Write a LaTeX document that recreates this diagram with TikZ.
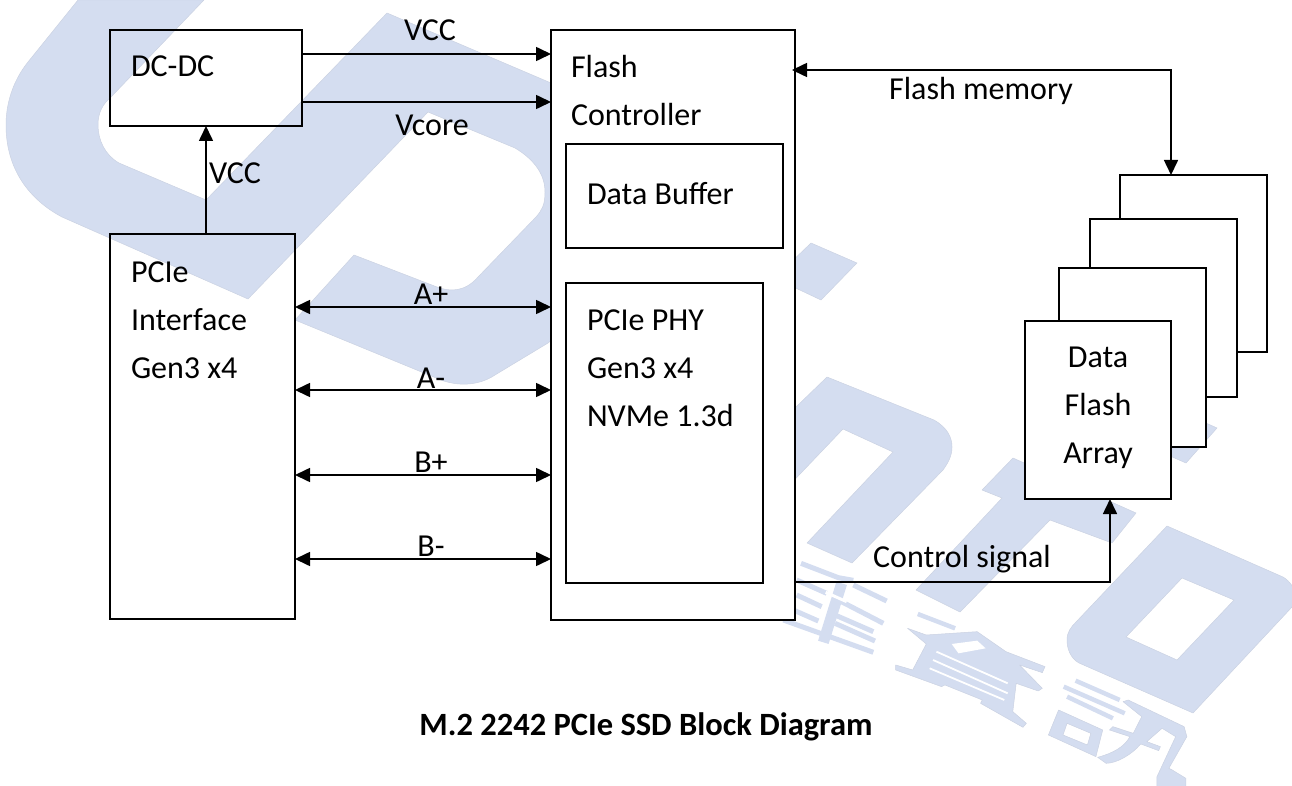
\documentclass[tikz,border=0pt]{standalone}
\usepackage{fontspec}
\setmainfont{Carlito}
\usetikzlibrary{arrows.meta}
\definecolor{wm}{RGB}{212,221,240}
\definecolor{wmedge}{RGB}{203,210,226}
\tikzset{
  wmfill/.style={fill=wm,draw=wmedge,line width=.5pt,line join=round},
  wmline/.style={draw=wm,line width=#1,line cap=butt},
  wmline/.default=5pt,
  wmslit/.style={draw=white,line width=#1},
  wmslit/.default=1.8pt,
  box/.style={draw=black,line width=1.6pt,inner sep=0pt,outer sep=0pt},
  solidbox/.style={box,fill=white},
  lab/.style={inner sep=0pt,outer sep=0pt,anchor=base west,align=left,font=\fontsize{32}{48}\selectfont},
  clab/.style={inner sep=0pt,outer sep=0pt,anchor=base,font=\fontsize{32}{38}\selectfont},
  conn/.style={draw=black,line width=1.6pt,-{Triangle[length=15pt,width=14pt]}},
  biconn/.style={draw=black,line width=1.6pt,{Triangle[length=15pt,width=14pt]}-{Triangle[length=15pt,width=14pt]}},
}
\begin{document}
\begin{tikzpicture}[x=1pt,y=-1pt]
\useasboundingbox (0,0) rectangle (1292,786);
\begin{scope}
\clip (0,0) rectangle (1292,786);
% watermark logo
\path[wmfill] (78,0) -- (28,62) .. controls (12,82) and (6,105) .. (6,125)
  .. controls (6,170) and (30,200) .. (62,217) -- (248,299) -- (428,112) -- (515,148)
  .. controls (535,160) and (545,175) .. (545,192) .. controls (545,205) and (542,210) .. (536,217)
  -- (478,277) .. controls (465,292) and (450,292) .. (437,287) -- (354,255) -- (295,320)
  -- (441,380) .. controls (460,387) and (480,385) .. (495,375) -- (548,343) -- (600,300)
  -- (600,100) -- (551,83) -- (387,13) -- (206,200) -- (119,163)
  .. controls (105,155) and (98,140) .. (98,125) .. controls (98,112) and (103,104) .. (111,97)
  -- (204,0) -- cycle;
\path[wmfill] (811,243) -- (857,263) -- (821,300) -- (785,283) -- (785,268) -- cycle;
\path[wmfill] (780,400) -- (796,407) -- (827,377) -- (934,420) .. controls (948,428) and (952,438) .. (952,447)
  .. controls (952,456) and (948,463) .. (943,470) -- (852,563) -- (807,543) -- (893,452) -- (843,429)
  -- (780,495) -- cycle;
\path[wmfill] (1013,458) -- (982,490) -- (1002,498) -- (916,590) -- (960,612) -- (1050,520)
  -- (1112,543) -- (1136,513) -- cycle;
\path[wmfill] (1217,428) -- (1186,463) -- (1170,456) -- (1170,410) -- (1190,416) -- cycle;
\path[wmfill,even odd rule] (1167,526) -- (1283,577) .. controls (1290,581) and (1296,590) .. (1296,597)
  -- (1292,607) -- (1193,713) -- (1079,663) .. controls (1070,658) and (1067,648) .. (1067,640)
  .. controls (1067,632) and (1071,627) .. (1076,622) -- cycle
  (1182,578) -- (1234,600) -- (1177,660) -- (1126,637) -- cycle;
% first character
\begin{scope}[xshift=785pt,yshift=-555pt,x=.3333pt,y=-.3333pt]
  \draw[wmline=5pt] (48,25) -- (160,68) -- (205,76);
  \draw[wmline=5pt] (205,90) -- (305,138);
  \draw[wmline=5pt] (35,75) -- (125,115);
  \draw[wmline=5pt] (35,120) -- (110,155);
  \draw[wmline=5pt] (25,165) -- (100,198);
  \draw[wmline=5pt] (-5,195) -- (265,292);
  \draw[wmline=5pt] (150,130) -- (295,205);
  \draw[wmline=5pt] (150,180) -- (265,230);
  \draw[wmline=5pt] (150,205) -- (270,258);
  \draw[wmline=11pt] (170,85) -- (115,262);
  \draw[wmslit=3pt] (122,112) -- (185,140);
\end{scope}
% second and third characters
\begin{scope}[xshift=760pt,yshift=-520pt,x=.3393pt,y=-.3333pt]
  \draw[wmline=4.5pt] (465,282) -- (575,325);
  \path[wmfill] (435,325) -- (490,345) -- (640,335) -- (725,395) -- (840,440) -- (832,458) -- (765,435)
    -- (832,505) -- (820,513) -- (755,490) -- (745,575) -- (785,610) -- (775,622) -- (650,550)
    -- (655,540) -- (545,495) -- (535,500) -- (400,450) -- (400,435) -- (450,450) -- (490,372) -- cycle;
  \draw[wmslit] (520,395) -- (730,490);
  \draw[wmslit] (510,420) -- (730,520);
  \draw[wmslit] (500,445) -- (720,540);
  \path[fill=white] (565,372) -- (640,362) -- (665,385) -- (585,400) -- cycle;
  \draw[wmline=4.5pt] (930,482) -- (1060,540);
  \draw[wmline=4.5pt] (895,500) -- (1075,580);
  \draw[wmline=4.5pt] (905,530) -- (1040,595);
  \path[wmfill,even odd rule] (880,570) -- (1010,630) -- (990,710) -- (850,645) -- cycle
    (905,610) -- (975,640) -- (965,675) -- (893,645) -- cycle;
  \path[wmfill] (1070,545) -- (1085,540) -- (1250,620) -- (1258,650) -- (1205,745) -- (1215,750)
    -- (1255,775) -- (1255,800) -- (1170,800) -- (1170,770) -- (1225,650) -- (1185,625)
    -- (1140,665) -- (1180,680) -- (1175,692) -- (1122,672)
    .. controls (1095,705) and (1050,730) .. (1020,730) -- (995,712)
    .. controls (1040,700) and (1075,680) .. (1090,650) -- (1030,630) -- (1040,620) -- (1100,640) -- (1125,590) -- cycle;
\end{scope}
\end{scope}

% blocks
\node[box,minimum width=192pt,minimum height=96pt] (dcdc) at (206,78) {};
\node[box,minimum width=185pt,minimum height=385pt] (pcie) at (202.5,426.5) {};
\node[solidbox,minimum width=244pt,minimum height=590pt] (flash) at (673,325) {};
\node[box,minimum width=217pt,minimum height=104pt] (buffer) at (674.5,196) {};
\node[box,minimum width=197pt,minimum height=300pt] (phy) at (664.5,433) {};
\node[solidbox,minimum width=147pt,minimum height=177pt] (array4) at (1193.5,263.5) {};
\node[solidbox,minimum width=147pt,minimum height=178pt] (array3) at (1163.5,308) {};
\node[solidbox,minimum width=147pt,minimum height=179pt] (array2) at (1132.5,357.5) {};
\node[solidbox,minimum width=146pt,minimum height=178pt] (array1) at (1098,410) {};

% block labels
\node[lab] (tdcdc) at (131,77) {DC-DC};
\node[lab] (tpcie) at (131,378) {PCIe\\Interface\\Gen3 x4};
\node[lab] (tflash) at (571,126) {Flash\\Controller};
\node[lab] (tbuffer) at (587,205) {Data Buffer};
\node[lab] (tphy) at (587,426) {PCIe PHY\\Gen3 x4\\NVMe 1.3d};
\node[lab,align=center,anchor=base] (tarray) at (1098,463) {Data\\Flash\\Array};

% connectors
\draw[conn] (dcdc.east |- 0,54) -- (flash.west |- 0,54);
\draw[conn] (dcdc.east |- 0,102) -- (flash.west |- 0,102);
\draw[conn] (pcie.north -| dcdc.south) -- (dcdc.south);
\draw[biconn] (pcie.east |- 0,307) -- (flash.west |- 0,307);
\draw[biconn] (pcie.east |- 0,390) -- (flash.west |- 0,390);
\draw[biconn] (pcie.east |- 0,475) -- (flash.west |- 0,475);
\draw[biconn] (pcie.east |- 0,559) -- (flash.west |- 0,559);
\coordinate (bus) at (1171,70);
\draw[biconn,shorten <=-3pt] (flash.east |- bus) -- (bus) -- (bus |- array4.north);
\coordinate (ctl) at (1110,582);
\draw[conn] (flash.east |- ctl) -- (ctl) -- (ctl |- array1.south);

% connector labels
\node[clab] (lvcc1) at (430,41) {VCC};
\node[clab] (lvcore) at (432,136) {Vcore};
\node[clab] (lvcc2) at (235,184) {VCC};
\node[clab] (lap) at (431,304) {A+};
\node[clab] (lam) at (431,388) {A-};
\node[clab] (lbp) at (431,472) {B+};
\node[clab] (lbm) at (431,556) {B-};
\node[clab] (lfm) at (981,100) {Flash memory};
\node[clab] (lcs) at (962,567) {Control signal};
\node[clab,font=\fontsize{32.5}{38}\selectfont\bfseries] (title) at (646,735) {M.2 2242 PCIe SSD Block Diagram};
\end{tikzpicture}
\end{document}
